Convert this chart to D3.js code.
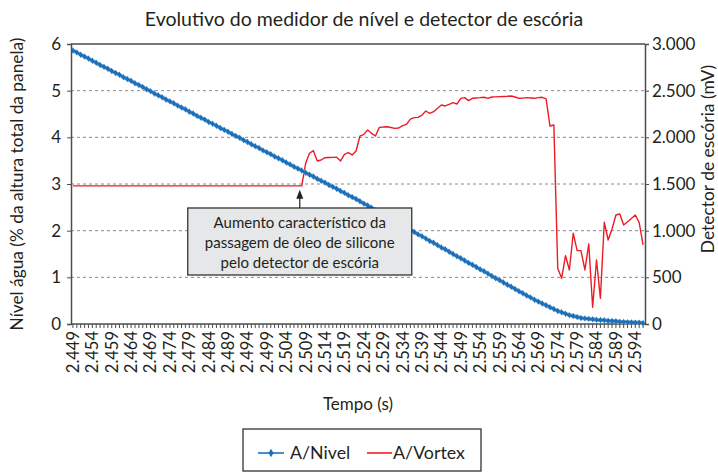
<!DOCTYPE html>
<html><head><meta charset="utf-8">
<script src="https://cdn.jsdelivr.net/npm/d3@7"></script>
<style>body{margin:0;background:#fff;} svg{display:block;font-family:Lato,"Open Sans",sans-serif;}</style>
</head><body><svg id="c" width="718" height="473"></svg>
<script>
const categories = d3.range(2449, 2597).map(v => "2." + String(v - 2000).padStart(3, "0"));
const leftTicks = [0, 1, 2, 3, 4, 5, 6];
const rightTicks = [0, 500, 1000, 1500, 2000, 2500, 3000];
const rightTickLabels = ["0", "500", "1.000", "1.500", "2.000", "2.500", "3.000"];
const nivel = [
5.86,5.82,5.77,5.73,5.69,5.64,5.60,5.55,5.51,5.47,
5.42,5.38,5.34,5.29,5.25,5.21,5.16,5.12,5.08,5.03,
4.99,4.94,4.90,4.86,4.81,4.77,4.73,4.68,4.64,4.60,
4.55,4.51,4.46,4.42,4.38,4.33,4.29,4.25,4.20,4.16,
4.12,4.07,4.03,3.99,3.94,3.90,3.85,3.81,3.77,3.72,
3.68,3.64,3.59,3.55,3.51,3.46,3.42,3.37,3.33,3.29,
3.24,3.20,3.16,3.11,3.07,3.03,2.98,2.94,2.90,2.85,
2.81,2.76,2.72,2.68,2.63,2.58,2.54,2.49,2.44,2.39,
2.35,2.30,2.25,2.21,2.16,2.11,2.07,2.02,1.97,1.92,
1.88,1.83,1.78,1.74,1.69,1.64,1.60,1.55,1.50,1.45,
1.41,1.36,1.31,1.27,1.22,1.17,1.13,1.08,1.03,0.98,
0.94,0.89,0.84,0.80,0.75,0.70,0.66,0.61,0.57,0.52,
0.48,0.44,0.40,0.36,0.32,0.28,0.25,0.22,0.19,0.17,
0.15,0.13,0.12,0.11,0.10,0.09,0.085,0.08,0.07,0.065,
0.06,0.05,0.045,0.04,0.035,0.03,0.03,0.02];
const vortex = [
1480,1480,1480,1480,1480,1480,1480,1480,1480,1480,
1480,1480,1480,1480,1480,1480,1480,1480,1480,1480,
1480,1480,1480,1480,1480,1480,1480,1480,1480,1480,
1480,1480,1480,1480,1480,1480,1480,1480,1480,1480,
1480,1480,1480,1480,1480,1480,1480,1480,1480,1480,
1480,1480,1480,1480,1480,1480,1480,1480,1480,1480,
1722,1829,1857,1747,1757,1782,1784,1785,1786,1747,
1818,1836,1811,1854,2014,2032,2079,2043,2014,2107,
2110,2114,2105,2096,2100,2125,2139,2196,2211,2214,
2239,2282,2257,2275,2311,2346,2336,2354,2371,2357,
2418,2425,2393,2418,2422,2425,2429,2418,2432,2434,
2436,2438,2440,2443,2432,2418,2420,2425,2422,2418,
2425,2429,2411,2121,2132,597,490,732,579,972,
786,786,579,857,179,686,275,1090,900,1018,
1168,1179,1061,1095,1130,1168,1086,847];
const seriesNames = ["A/Nivel", "A/Vortex"];
const annotationLines = ["Aumento característico da", "passagem de óleo de silicone", "pelo detector de escória"];
const annotationIndex = 59;

const svg = d3.select("#c");
const L = 71, R = 645, T = 44, B = 324;
const x = d3.scaleBand().domain(categories).range([L, R]);
const bw = x.bandwidth();
const cx = c => x(c) + bw / 2;
const yL = d3.scaleLinear().domain([0, 6]).range([B, T]);
const yR = d3.scaleLinear().domain([0, 3000]).range([B, T]);
const axisColor = "#4d4d4d";
const textColor = "#231f20";

// grid
svg.append("g").selectAll("line").data(leftTicks.slice(1, -1)).join("line")
  .attr("x1", L).attr("x2", R).attr("y1", d => yL(d)).attr("y2", d => yL(d))
  .attr("stroke", "#8a8a8a").attr("stroke-width", 1).attr("stroke-dasharray", "3,3");
// top border
svg.append("line").attr("x1", L).attr("x2", R).attr("y1", T).attr("y2", T)
  .attr("stroke", axisColor).attr("stroke-width", 1.3);

// left axis
const gl = svg.append("g").attr("transform", `translate(${L},0)`)
  .call(d3.axisLeft(yL).tickValues(leftTicks).tickSize(4).tickPadding(6).tickFormat(d3.format("d")));
// right axis
const gr = svg.append("g").attr("transform", `translate(${R},0)`)
  .call(d3.axisRight(yR).tickValues(rightTicks).tickSize(4).tickPadding(3).tickFormat((d, i) => rightTickLabels[i]));
// bottom axis
const gb = svg.append("g").attr("transform", `translate(0,${B})`)
  .call(d3.axisBottom(x).tickSize(4).tickPadding(5).tickFormat((d, i) => i % 5 === 0 ? d : ""));
[gl, gr, gb].forEach(g => {
  g.select(".domain").attr("stroke", axisColor).attr("stroke-width", 1.5);
  g.selectAll(".tick line").attr("stroke", axisColor).attr("stroke-width", 1);
  g.selectAll(".tick text").attr("fill", textColor).style("font-size", "17px").style("font-family", "Lato, sans-serif");
});
gb.select(".domain").attr("d", `M${L},0H${R}`);
gb.selectAll(".tick text").attr("transform", "rotate(-90)").attr("text-anchor", "end")
  .attr("x", -7).attr("y", 0).attr("dy", "0.36em").style("font-size", "16.5px");

// lines
const lineN = d3.line().x((d, i) => cx(categories[i])).y(d => yL(d));
const lineV = d3.line().x((d, i) => cx(categories[i])).y(d => yR(d));
svg.append("path").datum(vortex).attr("d", lineV).attr("fill", "none")
  .attr("stroke", "#ed1c24").attr("stroke-width", 1.4).attr("stroke-linejoin", "round");
svg.append("path").datum(nivel).attr("d", lineN).attr("fill", "none")
  .attr("stroke", "#7fb2e0").attr("stroke-width", 4);
svg.append("path").datum(nivel).attr("d", lineN).attr("fill", "none")
  .attr("stroke", "#1d70b8").attr("stroke-width", 2.2);
const diamond = d3.symbol(d3.symbolDiamond, 12);
svg.append("g").selectAll("path").data(nivel).join("path")
  .attr("d", diamond).attr("fill", "#1d70b8")
  .attr("transform", (d, i) => `translate(${cx(categories[i])},${yL(d)})`);

// annotation
const ax = cx(categories[annotationIndex]) - 2;
const tipY = yR(vortex[annotationIndex]) + 4;
const boxT = 208, boxB = 275, boxW = 224;
svg.append("rect").attr("x", ax - boxW / 2).attr("y", boxT).attr("width", boxW).attr("height", boxB - boxT)
  .attr("fill", "#e6e7e8").attr("stroke", "#333").attr("stroke-width", 1.3);
svg.append("line").attr("x1", ax).attr("x2", ax).attr("y1", boxT).attr("y2", tipY + 6)
  .attr("stroke", "#222").attr("stroke-width", 1.2);
svg.append("path").attr("d", `M${ax},${tipY}L${ax - 3.5},${tipY + 9}L${ax + 3.5},${tipY + 9}Z`).attr("fill", "#222");
svg.append("g").selectAll("text").data(annotationLines).join("text")
  .attr("x", ax).attr("y", (d, i) => 228 + i * 20).attr("text-anchor", "middle")
  .attr("fill", textColor).style("font-size", "15px").text(d => d);

// titles
svg.append("text").attr("x", 364).attr("y", 26).attr("text-anchor", "middle")
  .attr("fill", textColor).style("font-size", "19.5px").text("Evolutivo do medidor de nível e detector de escória");
svg.append("text").attr("transform", `translate(23,${(T + B) / 2}) rotate(-90)`).attr("text-anchor", "middle")
  .attr("fill", textColor).style("font-size", "17.3px").text("Nível água (% da altura total da panela)");
svg.append("text").attr("transform", `translate(714,159) rotate(-90)`).attr("text-anchor", "middle")
  .attr("fill", textColor).style("font-size", "17.4px").text("Detector de escória (mV)");
svg.append("text").attr("x", 358).attr("y", 410).attr("text-anchor", "middle")
  .attr("fill", textColor).style("font-size", "17px").text("Tempo (s)");

// legend
const lg = svg.append("g");
lg.append("rect").attr("x", 243).attr("y", 429).attr("width", 238).attr("height", 42)
  .attr("fill", "#fff").attr("stroke", "#222").attr("stroke-width", 1.2);
lg.append("line").attr("x1", 258).attr("x2", 284).attr("y1", 453).attr("y2", 453).attr("stroke", "#1d70b8").attr("stroke-width", 1.6);
lg.append("path").attr("d", d3.symbol(d3.symbolDiamond, 22)).attr("fill", "#1d70b8").attr("transform", "translate(271,453)");
lg.append("text").attr("x", 290).attr("y", 459).attr("fill", textColor).style("font-size", "17.8px").text(seriesNames[0]);
lg.append("line").attr("x1", 367).attr("x2", 392).attr("y1", 453).attr("y2", 453).attr("stroke", "#ed1c24").attr("stroke-width", 1.6);
lg.append("text").attr("x", 393).attr("y", 459).attr("fill", textColor).style("font-size", "17.8px").text(seriesNames[1]);
</script></body></html>
